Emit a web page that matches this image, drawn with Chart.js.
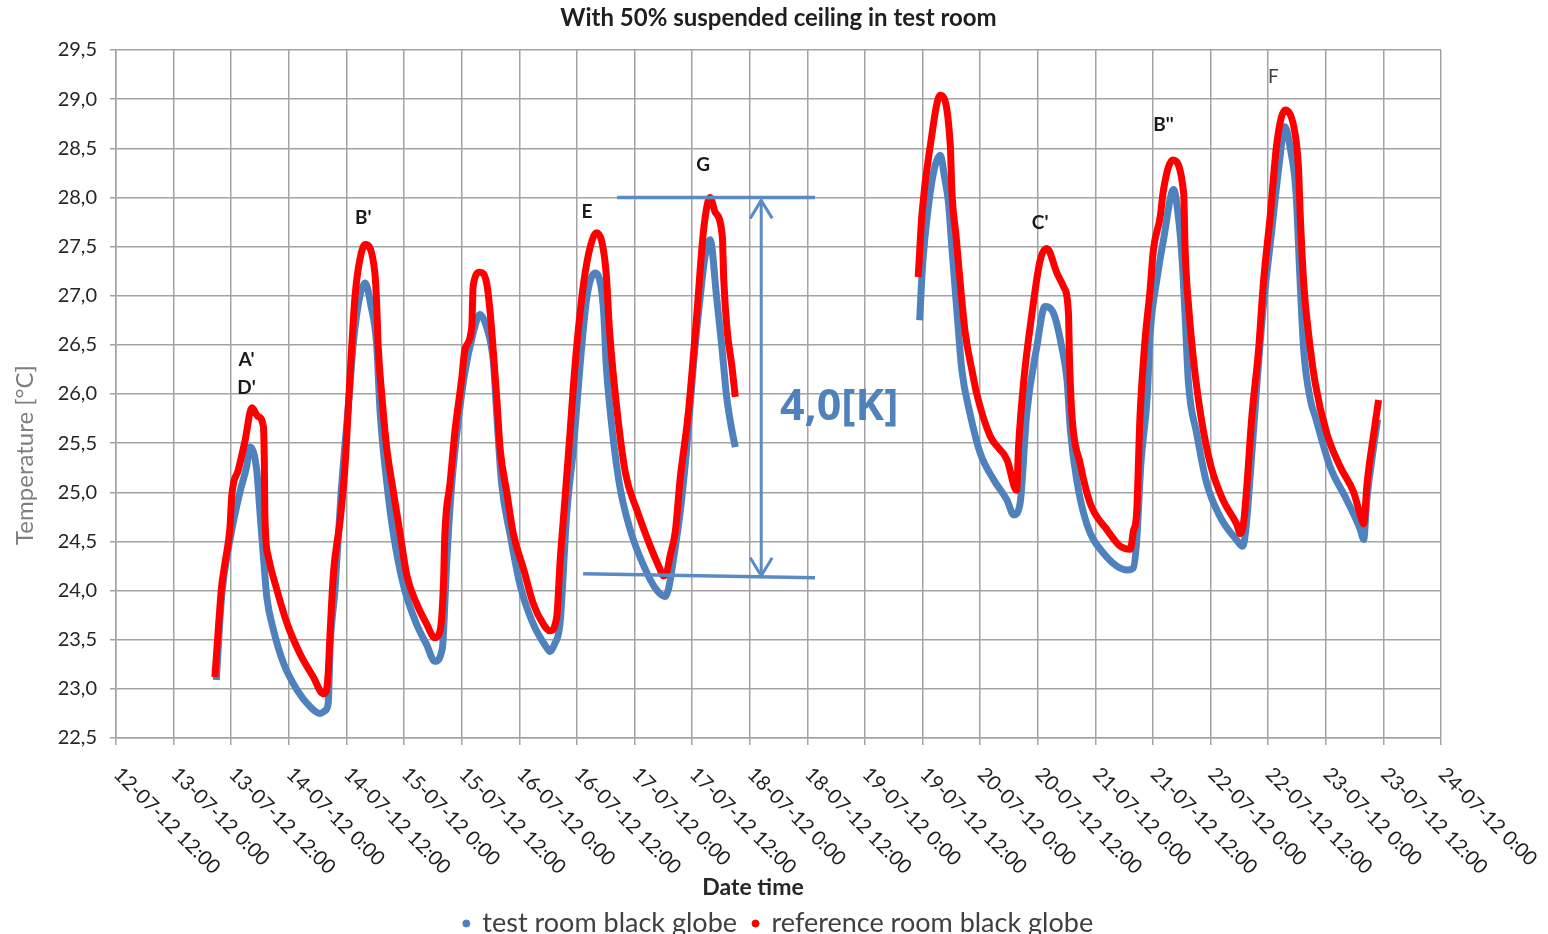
<!DOCTYPE html>
<html><head><meta charset="utf-8">
<script src="https://cdn.jsdelivr.net/npm/chart.js@4.4.1/dist/chart.umd.min.js"></script>
<style>html,body{margin:0;padding:0;background:#fff;}canvas{display:block;}</style>
</head><body>
<canvas id="c" width="1548" height="934"></canvas>
<script>
// ---- DATA (hours since 12-07-12 12:00, temperature in °C) ----
const xTickLabels = ["12-07-12 12:00","13-07-12 0:00","13-07-12 12:00","14-07-12 0:00","14-07-12 12:00","15-07-12 0:00","15-07-12 12:00","16-07-12 0:00","16-07-12 12:00","17-07-12 0:00","17-07-12 12:00","18-07-12 0:00","18-07-12 12:00","19-07-12 0:00","19-07-12 12:00","20-07-12 0:00","20-07-12 12:00","21-07-12 0:00","21-07-12 12:00","22-07-12 0:00","22-07-12 12:00","23-07-12 0:00","23-07-12 12:00","24-07-12 0:00"];
const xTickHours = [0,12,24,36,48,60,72,84,96,108,120,132,144,156,168,180,192,204,216,228,240,252,264,276];

const testHours = [20.9,22.0,23.75,25.8,27.2,27.9,29.3,30.0,30.7,31.4,32.8,34.9,37.7,40.4,42.5,43.6,44.2,44.6,45.6,46.9,48.6,49.4,50.8,51.9,53.1,54.3,55.0,56.4,57.8,59.9,62.6,64.7,66.4,68.0,68.5,68.8,69.8,71.0,72.6,74.3,75.8,77.2,78.6,79.3,80.3,82.1,84.2,86.9,89.7,90.4,91.3,92.5,93.9,95.3,96.7,98.1,99.8,101.0,101.6,102.1,102.6,104.7,107.1,110.6,112.7,114.4,115.0,115.6,116.0,117.5,118.9,120.3,121.7,122.7,123.75,125.1,126.2,127.2,128.3,129.0,
  148,
  167.4,168.0,169.2,170.5,171.7,172.6,173.4,174.1,175.2,176.2,177.9,180.0,182.8,185.6,187.0,188.3,189.7,191.8,193.5,195.3,197.0,198.1,198.8,200.1,202.2,205.7,210.7,211.9,212.6,213.5,214.8,215.4,216.9,218.2,220.3,221.3,222.1,222.7,223.4,225.1,227.2,230.0,233.5,234.7,235.3,236.0,237.5,239.0,240.6,242.2,243.5,244.6,245.8,246.6,247.4,248.8,249.8,252.9,256.4,259.2,259.9,260.5,261.5,262.8];
const testTemp = [23.09,23.94,24.52,25.0,25.26,25.46,25.23,24.79,24.35,23.94,23.6,23.26,22.99,22.82,22.75,22.78,22.85,23.43,24.0,25.0,26.0,26.5,27.0,27.13,26.9,26.5,25.83,25.1,24.57,24.05,23.66,23.45,23.28,23.42,23.87,24.2,25.0,25.6,26.2,26.6,26.81,26.68,26.33,25.8,25.1,24.57,24.05,23.66,23.42,23.38,23.45,23.67,24.79,25.46,26.31,26.99,27.23,27.1,26.82,26.31,26.0,25.13,24.62,24.18,24.0,23.94,24.0,24.15,24.28,24.79,25.46,26.31,26.99,27.4,27.57,26.99,26.48,25.97,25.63,25.46,
  null,
  26.75,27.3,27.9,28.3,28.43,28.2,27.95,27.5,26.82,26.24,25.8,25.4,25.13,24.92,24.77,24.88,25.8,26.48,26.89,26.82,26.48,26.14,25.63,25.13,24.68,24.38,24.21,24.23,24.5,25.3,25.97,26.6,27.19,27.57,28.08,27.8,27.35,26.79,26.11,25.6,25.09,24.75,24.51,24.45,24.6,25.0,26.0,26.9,27.6,28.3,28.72,28.5,28.05,27.2,26.45,25.94,25.77,25.26,24.92,24.62,24.52,24.9,25.3,25.74];

const refHours = [20.6,21.3,22.0,22.7,23.75,24.1,25.5,26.9,28.3,29.6,30.7,30.9,31.0,31.7,33.5,35.6,38.3,41.1,43.2,43.8,44.2,44.6,45.3,46.7,47.7,48.4,49.1,49.8,50.8,51.9,53.9,54.3,54.6,55.4,56.4,57.8,59.2,60.6,62.6,64.7,66.4,67.5,68.2,68.5,69.6,70.6,72.0,72.7,74.1,74.4,75.8,77.2,77.9,78.6,79.3,80.0,81.4,82.8,84.9,86.9,89.0,90.4,91.8,92.5,93.5,94.6,95.3,96.4,97.5,98.8,100.1,101.2,102.1,102.8,104.0,106.1,108.5,111.3,113.3,114.0,114.8,115.4,116.5,117.5,119.2,121.0,122.4,123.75,124.8,126.3,126.6,127.3,128.3,129.0,
  148,
  167.1,167.9,169.6,171.7,173.8,174.1,175.0,175.8,176.9,178.3,179.3,182.1,185.6,187.6,188.0,189.1,190.8,192.5,193.9,196.0,197.4,198.4,198.6,199.1,200.8,202.9,206.4,209.2,211.3,211.9,212.6,213.3,214.3,215.4,216.1,217.5,218.2,220.1,222.4,222.7,223.6,224.6,226.0,228.1,230.6,233.4,234.2,234.9,235.6,236.6,238.0,239.0,240.4,241.8,243.5,245.6,246.3,246.7,247.4,248.4,249.8,252.2,255.0,257.8,259.3,259.9,260.6,262.0,263.0];
const refTemp = [23.12,23.6,24.04,24.28,24.65,24.96,25.23,25.53,25.86,25.77,25.67,25.3,24.79,24.35,24.01,23.67,23.36,23.12,22.95,22.98,23.16,23.57,24.18,24.72,25.26,25.87,26.48,27.0,27.37,27.52,27.24,26.92,26.5,25.97,25.45,25.0,24.57,24.15,23.87,23.66,23.52,23.59,24.05,24.57,25.1,25.62,26.15,26.46,26.68,27.1,27.24,27.13,26.85,26.43,25.97,25.45,25.0,24.57,24.22,23.87,23.66,23.59,23.73,24.29,24.92,25.62,26.1,26.7,27.16,27.5,27.64,27.55,27.23,26.65,26.0,25.2,24.82,24.45,24.22,24.15,24.2,24.35,24.6,25.13,25.8,26.82,27.67,28.0,27.85,27.6,27.16,26.65,26.28,25.97,
  null,
  27.19,27.84,28.52,29.04,28.52,28.08,27.6,27.16,26.62,26.24,26.0,25.57,25.33,25.02,25.46,26.14,26.82,27.36,27.48,27.23,27.09,26.82,26.38,25.8,25.3,24.89,24.62,24.45,24.42,24.6,24.79,25.77,26.52,27.06,27.47,27.8,28.08,28.38,28.04,27.47,26.79,26.28,25.77,25.26,24.92,24.68,24.58,24.7,25.09,25.77,26.45,27.13,27.8,28.55,28.89,28.65,28.31,27.8,27.13,26.62,26.11,25.6,25.26,25.0,24.75,24.68,25.09,25.6,25.94];

// peak annotations (text, hour, temperature)
const peakLabels = ["A'","D'","B'","E","G","C'","B''","F"];
const peakHours  = [27.2,27.2,51.5,98.1,122.3,192.5,218.2,241.1];
const peakTemps  = [26.35,26.06,27.79,27.85,28.33,27.74,28.74,29.23];
const peakBold   = [true,true,true,true,true,true,true,false];

// 4,0 K dimension annotation
const deltaText = "4,0[K]";
const deltaTopLine = {h0:104.4, h1:145.6, t0:28.0, t1:28.0};
const deltaBottomLine = {h0:97.3, h1:145.6, t0:24.17, t1:24.13};
const deltaArrow = {h:134.4, tTop:27.97, tBottom:24.15};
const deltaTextPos = {h:138.3, t:25.86};

// ---- CHART ----
const BLUE = '#4f81bd', RED = '#ff0000', GRID = '#a3a3a3', ANN = '#5b8bc6';
const pts = (hs, ts) => hs.map((h, i) => ({x: h, y: ts[i]}));

const overlay = {
  id: 'overlay',
  afterDatasetsDraw(chart) {
    const {ctx, scales: {x, y}} = chart;
    ctx.save();
    ctx.textAlign = 'center'; ctx.textBaseline = 'middle';
    peakLabels.forEach((t, i) => {
      ctx.font = (peakBold[i] ? 'bold ' : '') + '19px Lato';
      ctx.fillStyle = peakBold[i] ? '#1a1a1a' : '#404040';
      ctx.fillText(t, x.getPixelForValue(peakHours[i]), y.getPixelForValue(peakTemps[i]));
    });
    ctx.strokeStyle = ANN; ctx.lineWidth = 3.5; ctx.lineCap = 'butt';
    const line = (L) => { ctx.beginPath(); ctx.moveTo(x.getPixelForValue(L.h0), y.getPixelForValue(L.t0)); ctx.lineTo(x.getPixelForValue(L.h1), y.getPixelForValue(L.t1)); ctx.stroke(); };
    line(deltaTopLine); line(deltaBottomLine);
    const ax = x.getPixelForValue(deltaArrow.h), aT = y.getPixelForValue(deltaArrow.tTop), aB = y.getPixelForValue(deltaArrow.tBottom);
    ctx.lineWidth = 3;
    ctx.beginPath(); ctx.moveTo(ax, aT); ctx.lineTo(ax, aB); ctx.stroke();
    ctx.beginPath(); ctx.moveTo(ax - 11, aT + 18); ctx.lineTo(ax, aT); ctx.lineTo(ax + 11, aT + 18); ctx.stroke();
    ctx.beginPath(); ctx.moveTo(ax - 11, aB - 18); ctx.lineTo(ax, aB); ctx.lineTo(ax + 11, aB - 18); ctx.stroke();
    ctx.font = 'bold 43px "Open Sans"'; ctx.fillStyle = BLUE; ctx.textAlign = 'left';
    ctx.fillText(deltaText, x.getPixelForValue(deltaTextPos.h), y.getPixelForValue(deltaTextPos.t));
    ctx.restore();
  },
  afterDraw(chart) {
    const {ctx, scales: {x, y}} = chart;
    ctx.save();
    ctx.font = '20px Lato'; ctx.fillStyle = '#1f1f1f'; ctx.textAlign = 'left'; ctx.textBaseline = 'middle';
    xTickLabels.forEach((lab, i) => {
      ctx.save();
      ctx.translate(x.getPixelForValue(xTickHours[i]) + 1, y.bottom + 33);
      ctx.rotate(Math.PI / 4);
      ctx.fillText(lab, 0, 0);
      ctx.restore();
    });
    ctx.font = 'bold 23px Lato'; ctx.fillStyle = '#262626'; ctx.textAlign = 'center';
    ctx.fillText('Date time', 753, 888);
    ctx.save();
    ctx.translate(25, 455); ctx.rotate(-Math.PI / 2);
    ctx.font = '24px Lato'; ctx.fillStyle = '#7f7f7f';
    ctx.fillText('Temperature [°C]', 0, 0);
    ctx.restore();
    ctx.restore();
  }
};

new Chart(document.getElementById('c'), {
  type: 'scatter',
  data: {
    datasets: [
      {label: 'test room black globe', data: pts(testHours, testTemp), showLine: true, borderColor: BLUE, backgroundColor: BLUE,
       borderWidth: 7, pointRadius: 0, cubicInterpolationMode: 'monotone', spanGaps: false, order: 2},
      {label: 'reference room black globe', data: pts(refHours, refTemp), showLine: true, borderColor: RED, backgroundColor: RED,
       borderWidth: 7, pointRadius: 0, cubicInterpolationMode: 'monotone', spanGaps: false, order: 1}
    ]
  },
  options: {
    responsive: false, animation: false, devicePixelRatio: 1, events: [],
    layout: {padding: {left: 0, right: 107, top: 0, bottom: 0}},
    plugins: {
      tooltip: {enabled: false},
      title: {display: true, fullSize: false, text: 'With 50% suspended ceiling in test room', color: '#1f1f1f',
              font: {family: 'Lato', size: 24, weight: 'bold'}, lineHeight: 1.2, padding: {top: 4, bottom: 17.2}},
      legend: {display: true, position: 'bottom', fullSize: false, maxHeight: 40,
        labels: {usePointStyle: true, boxWidth: 5, boxHeight: 5, padding: 16, color: '#404040',
          font: {family: 'Lato', size: 27},
          generateLabels: (chart) => chart.data.datasets.map((ds, i) => ({
            text: ds.label, fillStyle: ds.borderColor, strokeStyle: ds.borderColor, lineWidth: 1,
            pointStyle: 'circle', hidden: false, datasetIndex: i, fontColor: '#404040'}))
        }}
    },
    scales: {
      x: {type: 'linear', min: 0, max: 276,
          afterFit: (s) => { s.height = 156; },
          ticks: {display: false, stepSize: 12},
          grid: {color: GRID, lineWidth: 1.5, drawTicks: true, tickLength: 7},
          border: {color: GRID, width: 1.5}},
      y: {min: 22.5, max: 29.5,
          afterFit: (s) => { s.width = 116; },
          ticks: {stepSize: 0.5, padding: 13, color: '#262626', font: {family: 'Lato', size: 20},
                  callback: (v) => v.toFixed(1).replace('.', ',')},
          grid: {color: GRID, lineWidth: 1.5, drawTicks: true, tickLength: 6},
          border: {color: GRID, width: 1.5}}
    }
  },
  plugins: [overlay]
});
</script>
</body></html>
